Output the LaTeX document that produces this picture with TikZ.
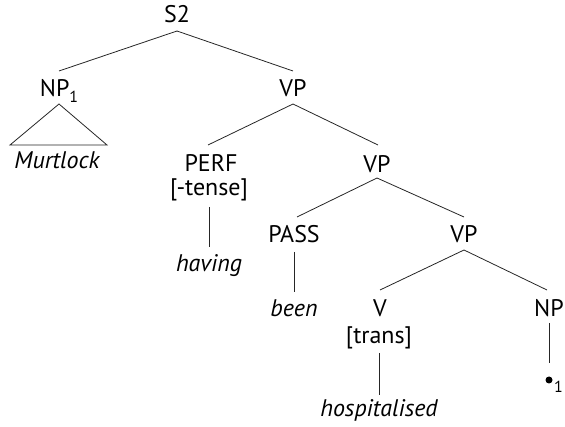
\documentclass[tikz,border=0pt]{standalone}
\usepackage{fontspec}
\setmainfont{PT Sans}
\begin{document}
\begin{tikzpicture}[x=1pt,y=-1pt,
  lab/.style={anchor=base,inner sep=0pt,font=\fontsize{24}{27}\selectfont},
  word/.style={lab,font=\fontsize{24}{27}\selectfont\itshape},
  branch/.style={line width=0.8pt,black!85}]
\useasboundingbox (0,0) rectangle (565,427);
% nodes
\node[lab] (S2) at (177,23) {S2};
\node[lab] (NP1) at (59,97) {NP\raisebox{-0.22em}{\fontsize{16}{18}\selectfont 1}};
\node[lab] (VP1) at (293,97) {VP};
\node[word] (murt) at (57,169) {Murtlock};
\node[lab] (perf) at (211,172) {PERF};
\node[lab] (tense) at (209,196) {[-tense]};
\node[word] (having) at (209,272) {having};
\node[lab] (VP2) at (377,173) {VP};
\node[lab] (pass) at (294,243) {PASS};
\node[word] (been) at (294,317) {been};
\node[lab] (VP3) at (464,243) {VP};
\node[lab] (V) at (380,317) {V};
\node[lab] (trans) at (379,344) {[trans]};
\node[word] (hosp) at (379,417) {hospitalised};
\node[lab] (NP2) at (549,317) {NP};
\node[inner sep=0pt] (trace) at (549,380) {};
\node[anchor=base west,inner sep=0pt,font=\fontsize{16}{18}\selectfont] (tr1) at (554,393) {1};
% branches
\draw[branch] ([yshift=-8pt]S2.base) -- ([yshift=26pt]NP1.base);
\draw[branch] ([yshift=-8pt]S2.base) -- ([yshift=26pt]VP1.base);
\draw[branch] ([yshift=-7pt]NP1.base) -- ([shift={(-47pt,24pt)}]murt.base) -- ([shift={(50pt,24pt)}]murt.base) -- cycle;
\draw[branch] ([yshift=-7pt]VP1.base) -- ([shift={(-3pt,27pt)}]perf.base);
\draw[branch] ([yshift=-7pt]VP1.base) -- ([shift={(1pt,28pt)}]VP2.base);
\draw[branch] ([yshift=-11pt]tense.base) -- ([yshift=25pt]having.base);
\draw[branch] ([yshift=-5pt]VP2.base) -- ([shift={(3pt,26pt)}]pass.base);
\draw[branch] ([yshift=-5pt]VP2.base) -- ([yshift=26pt]VP3.base);
\draw[branch] ([yshift=-9pt]pass.base) -- ([yshift=25pt]been.base);
\draw[branch] ([yshift=-7pt]VP3.base) -- ([yshift=27pt]V.base);
\draw[branch] ([yshift=-7pt]VP3.base) -- ([shift={(-2pt,27pt)}]NP2.base);
\draw[branch] ([yshift=-9pt]trans.base) -- ([yshift=22pt]hosp.base);
\draw[branch] ([yshift=-6pt]NP2.base) -- ([yshift=-46pt]NP2.base);
\fill (trace) circle (3.5pt);
\end{tikzpicture}
\end{document}
